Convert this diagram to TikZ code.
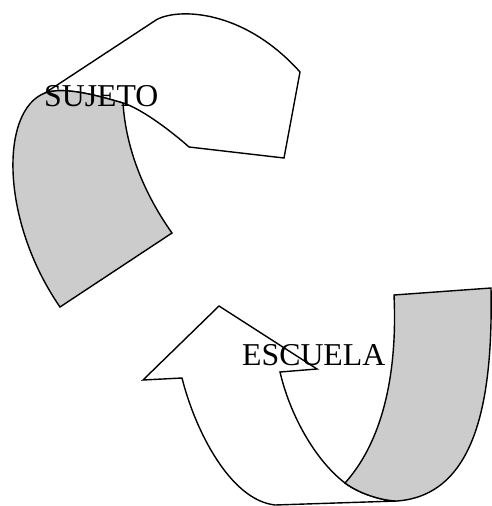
\documentclass[tikz,border=0pt]{standalone}
\usepackage{fontspec}
\setmainfont{Liberation Serif}
\tikzset{
  ribbon/.style={draw=black, line width=1.4pt, line join=miter, fill=white},
  shade/.style={draw=black, line width=1.4pt, line join=miter, fill=black!20},
  lbl/.style={inner sep=0pt, anchor=base west, font=\fontsize{31.8}{38}\selectfont}
}
\begin{document}
\begin{tikzpicture}[x=1pt,y=-1pt]
\useasboundingbox (0,0) rectangle (491,506);
% top ribbon
\coordinate (A) at (45,93);
\coordinate (B) at (153,22);
\coordinate (C) at (300,72);
\coordinate (D) at (284,158);
\coordinate (E) at (189,147);
\coordinate (F) at (123,103);
\coordinate (G) at (60,307);
\coordinate (H) at (172,233);
\path[ribbon] (A) -- (B) .. controls (170,8) and (240,5) .. (C) -- (D) -- (E)
  .. controls (170,130) and (140,108) .. (F)
  .. controls (99,96) and (64,86) .. (A) -- cycle;
\path[shade] (F) .. controls (99,96) and (64,86) .. (A)
  .. controls (0,110) and (0,220) .. (G) -- (H)
  .. controls (145,195) and (126,150) .. (F) -- cycle;
% bottom ribbon
\coordinate (T) at (219,306);
\coordinate (LB) at (143,380);
\coordinate (LI) at (182,378);
\coordinate (RB) at (317,369);
\coordinate (RI) at (280,372);
\coordinate (K) at (345,483);
\coordinate (J) at (397,501);
\coordinate (W) at (275,505);
\coordinate (L) at (394,295);
\coordinate (M) at (491,288);
\path[ribbon] (T) -- (RB) -- (RI) .. controls (290,415) and (315,460) .. (K)
  .. controls (361,495) and (385,501) .. (J) -- (W)
  .. controls (230,500) and (195,430) .. (LI) -- (LB) -- cycle;
\path[shade] (L) -- (M) .. controls (493,395) and (478,495) .. (J)
  .. controls (385,501) and (361,495) .. (K)
  .. controls (388,435) and (397,360) .. (L) -- cycle;
% labels
\node[lbl] (sujeto) at (44,106.5) {SUJETO};
\node[lbl] (escuela) at (242,365) {ESCUELA};
\end{tikzpicture}
\end{document}
